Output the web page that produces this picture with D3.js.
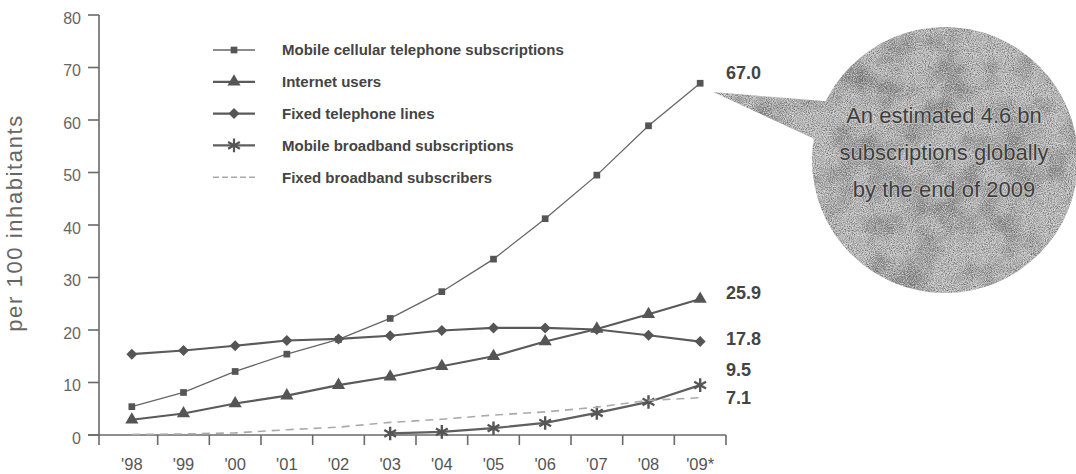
<!DOCTYPE html>
<html>
<head>
<meta charset="utf-8">
<script src="https://cdn.jsdelivr.net/npm/d3@7"></script>
<style>
  body { margin: 0; background: #fff; }
  svg { display: block; font-family: "Liberation Sans", Arial, sans-serif; }
  .axis-line { stroke: #6a6a6a; stroke-width: 1.6; fill: none; }
  .tick-label { fill: #666; font-size: 16px; }
  .x-label { fill: #555; font-size: 16.5px; }
  .legend-text { fill: #444; font-size: 15px; font-weight: bold; }
  .end-label { fill: #444; font-size: 18px; font-weight: bold; }
  .bubble-text { fill: #3e3e3e; font-size: 22px; stroke: #c8c8c8; stroke-width: 1.5; paint-order: stroke; }
</style>
</head>
<body>
<div id="chart"></div>
<script>
// categories (x axis)
const years = ["'98", "'99", "'00", "'01", "'02", "'03", "'04", "'05", "'06", "'07", "'08", "'09*"];
const yTicks = [0, 10, 20, 30, 40, 50, 60, 70, 80];

// per 100 inhabitants
const mobileCellular = [5.4, 8.1, 12.1, 15.4, 18.2, 22.2, 27.3, 33.5, 41.2, 49.5, 58.9, 67.0];
const internetUsers = [2.9, 4.1, 6.0, 7.5, 9.5, 11.1, 13.1, 15.0, 17.8, 20.2, 23.0, 25.9];
const fixedTelephone = [15.4, 16.1, 17.0, 18.0, 18.3, 18.9, 19.9, 20.4, 20.4, 20.1, 19.0, 17.8];
const mobileBroadband = [null, null, null, null, null, 0.3, 0.6, 1.3, 2.3, 4.2, 6.3, 9.5];
const fixedBroadband = [0.1, 0.2, 0.4, 1.0, 1.5, 2.4, 3.0, 3.8, 4.4, 5.3, 6.6, 7.1];

const seriesNames = [
    "Mobile cellular telephone subscriptions",
    "Internet users",
    "Fixed telephone lines",
    "Mobile broadband subscriptions",
    "Fixed broadband subscribers"
];

const bubbleLines = ["An estimated 4.6 bn", "subscriptions globally", "by the end of 2009"];

class LineChart {

    constructor(_config) {
        this.config = {
            parentElement: _config.parentElement,
            containerWidth: _config.containerWidth || 1076,
            containerHeight: _config.containerHeight || 474
        };
        this.initVis();
    }

    initVis() {
        let vis = this;

        vis.svg = d3.select(vis.config.parentElement)
            .append('svg')
            .attr('width', vis.config.containerWidth)
            .attr('height', vis.config.containerHeight);

        vis.axisX = 99;   // where the y axis sits
        vis.xScale = d3.scaleBand().domain(years).range([106, 726]).padding(0);
        vis.yScale = d3.scaleLinear().domain([0, 80]).range([435, 15]);

        const sym = (type, size) => d3.symbol().type(type).size(size)();

        vis.series = [
            { name: seriesNames[0], values: mobileCellular, width: 1.3, color: '#666', marker: sym(d3.symbolSquare, 45), fill: '#555', labelDy: -11 },
            { name: seriesNames[1], values: internetUsers, width: 2.2, color: '#5a5a5a', marker: sym(d3.symbolTriangle, 75), fill: '#555', labelDy: -7 },
            { name: seriesNames[2], values: fixedTelephone, width: 2.2, color: '#5a5a5a', marker: sym(d3.symbolSquare, 60), rotate: 45, fill: '#555', labelDy: -3 },
            { name: seriesNames[3], values: mobileBroadband, width: 2.2, color: '#5f5f5f', marker: sym(d3.symbolAsterisk, 130), stroke: true, labelDy: -16 },
            { name: seriesNames[4], values: fixedBroadband, width: 1.6, color: '#aaa', dash: '8,6', marker: null, labelDy: 0 }
        ];
    }

    renderVis() {
        let vis = this;
        const x = d => vis.xScale(d.year) + vis.xScale.bandwidth() / 2;
        const y = d => vis.yScale(d.value);

        // speckled texture for the speech bubble
        const defs = vis.svg.append('defs');
        const f = defs.append('filter').attr('id', 'grain')
            .attr('filterUnits', 'userSpaceOnUse')
            .attr('x', 700).attr('y', 20).attr('width', 380).attr('height', 290)
            .attr('color-interpolation-filters', 'sRGB');
        f.append('feFlood').attr('flood-color', '#c0c0c0').attr('result', 'base');
        f.append('feTurbulence').attr('type', 'fractalNoise').attr('baseFrequency', 0.03)
            .attr('numOctaves', 3).attr('seed', 11).attr('result', 'coarse');
        f.append('feColorMatrix').attr('in', 'coarse').attr('type', 'matrix')
            .attr('values', '0 0 0 0 0.4 0 0 0 0 0.4 0 0 0 0 0.4 1.8 0 0 0 -0.75')
            .attr('result', 'blotch');
        f.append('feTurbulence').attr('type', 'fractalNoise').attr('baseFrequency', 0.95)
            .attr('numOctaves', 1).attr('seed', 4).attr('result', 'fine');
        f.append('feColorMatrix').attr('in', 'fine').attr('type', 'matrix')
            .attr('values', '0 0 0 0 0.38 0 0 0 0 0.38 0 0 0 0 0.38 2.4 0 0 0 -0.95')
            .attr('result', 'speck');
        f.append('feTurbulence').attr('type', 'fractalNoise').attr('baseFrequency', 0.9)
            .attr('numOctaves', 1).attr('seed', 27).attr('result', 'fine2');
        f.append('feColorMatrix').attr('in', 'fine2').attr('type', 'matrix')
            .attr('values', '0 0 0 0 0.92 0 0 0 0 0.92 0 0 0 0 0.92 2.2 0 0 0 -0.95')
            .attr('result', 'light');
        const m = f.append('feMerge').attr('result', 'tex');
        ['base', 'blotch', 'speck', 'light'].forEach(n => m.append('feMergeNode').attr('in', n));
        f.append('feComposite').attr('in', 'tex').attr('in2', 'SourceGraphic').attr('operator', 'in');

        // bubble: tail + circle
        const bubble = vis.svg.append('g').attr('filter', 'url(#grain)');
        bubble.append('path')
            .attr('d', 'M713,92 L860,104 L860,160 Z')
            .attr('fill', '#000');
        bubble.append('circle')
            .attr('cx', 945).attr('cy', 160).attr('r', 133)
            .attr('fill', '#000');

        vis.svg.selectAll('.bubble-text')
            .data(bubbleLines)
            .join('text')
            .attr('class', 'bubble-text')
            .attr('x', 944)
            .attr('y', (d, i) => 123 + i * 37)
            .attr('text-anchor', 'middle')
            .text(d => d);

        // y axis
        vis.svg.append('line').attr('class', 'axis-line')
            .attr('x1', vis.axisX).attr('x2', vis.axisX)
            .attr('y1', vis.yScale(80)).attr('y2', vis.yScale(0) + 10);
        vis.svg.selectAll('.y-tick')
            .data(yTicks)
            .join('line')
            .attr('class', 'axis-line y-tick')
            .attr('x1', vis.axisX - 11).attr('x2', vis.axisX)
            .attr('y1', d => vis.yScale(d)).attr('y2', d => vis.yScale(d));
        vis.svg.selectAll('.y-label')
            .data(yTicks)
            .join('text')
            .attr('class', 'tick-label y-label')
            .attr('x', 81)
            .attr('y', d => vis.yScale(d) + 3)
            .attr('dy', '0.36em')
            .attr('text-anchor', 'end')
            .text(d => d);

        vis.svg.append('text')
            .attr('fill', '#666')
            .attr('font-size', 22)
            .attr('letter-spacing', 1.6)
            .attr('text-anchor', 'middle')
            .attr('transform', 'translate(22,223) rotate(-90)')
            .text('per 100 inhabitants');

        // x axis, ticks on the category boundaries
        const bounds = years.map(d => vis.xScale(d) + vis.xScale.bandwidth());
        vis.svg.append('line').attr('class', 'axis-line')
            .attr('x1', vis.axisX - 11).attr('x2', vis.xScale.range()[1])
            .attr('y1', vis.yScale(0)).attr('y2', vis.yScale(0));
        vis.svg.selectAll('.x-tick')
            .data(bounds)
            .join('line')
            .attr('class', 'axis-line x-tick')
            .attr('x1', d => d).attr('x2', d => d)
            .attr('y1', vis.yScale(0)).attr('y2', vis.yScale(0) + 10);
        vis.svg.selectAll('.x-label')
            .data(years)
            .join('text')
            .attr('class', 'x-label')
            .attr('x', d => vis.xScale(d) + vis.xScale.bandwidth() / 2)
            .attr('y', 470)
            .attr('text-anchor', 'middle')
            .text(d => d);

        // lines
        const line = d3.line().defined(d => d.value !== null).x(x).y(y);
        vis.series.forEach(s => {
            const pts = years.map((yr, i) => ({ year: yr, value: s.values[i] }));
            vis.svg.append('path')
                .datum(pts)
                .attr('d', line)
                .attr('fill', 'none')
                .attr('stroke', s.color)
                .attr('stroke-width', s.width)
                .attr('stroke-dasharray', s.dash || null);
            if (s.marker) {
                vis.svg.append('g').selectAll('path')
                    .data(pts.filter(d => d.value !== null))
                    .join('path')
                    .attr('transform', d => `translate(${x(d)},${y(d)}) rotate(${s.rotate || 0})`)
                    .attr('d', s.marker)
                    .attr('fill', s.stroke ? 'none' : s.fill)
                    .attr('stroke', s.stroke ? '#555' : 'none')
                    .attr('stroke-width', 2.4);
            }
            const last = pts[pts.length - 1];
            vis.svg.append('text')
                .attr('class', 'end-label')
                .attr('x', 726)
                .attr('y', y(last) + s.labelDy)
                .attr('dy', '0.36em')
                .text(d3.format('.1f')(last.value));
        });

        // legend
        const legend = vis.svg.append('g').selectAll('g')
            .data(vis.series)
            .join('g')
            .attr('transform', (d, i) => `translate(213,${50 + i * 31.8})`);
        legend.append('line')
            .attr('x1', 0).attr('x2', 42)
            .attr('stroke', d => d.color)
            .attr('stroke-width', d => d.width)
            .attr('stroke-dasharray', d => d.dash ? '6,3' : null);
        legend.filter(d => d.marker).append('path')
            .attr('transform', d => `translate(21,0) rotate(${d.rotate || 0})`)
            .attr('d', d => d.marker)
            .attr('fill', d => d.stroke ? 'none' : d.fill)
            .attr('stroke', d => d.stroke ? '#555' : 'none')
            .attr('stroke-width', 2.2);
        legend.append('text')
            .attr('class', 'legend-text')
            .attr('x', 69)
            .attr('dy', '0.36em')
            .text(d => d.name);
    }
}

const chart = new LineChart({ parentElement: '#chart' });
chart.renderVis();
</script>
</body>
</html>
